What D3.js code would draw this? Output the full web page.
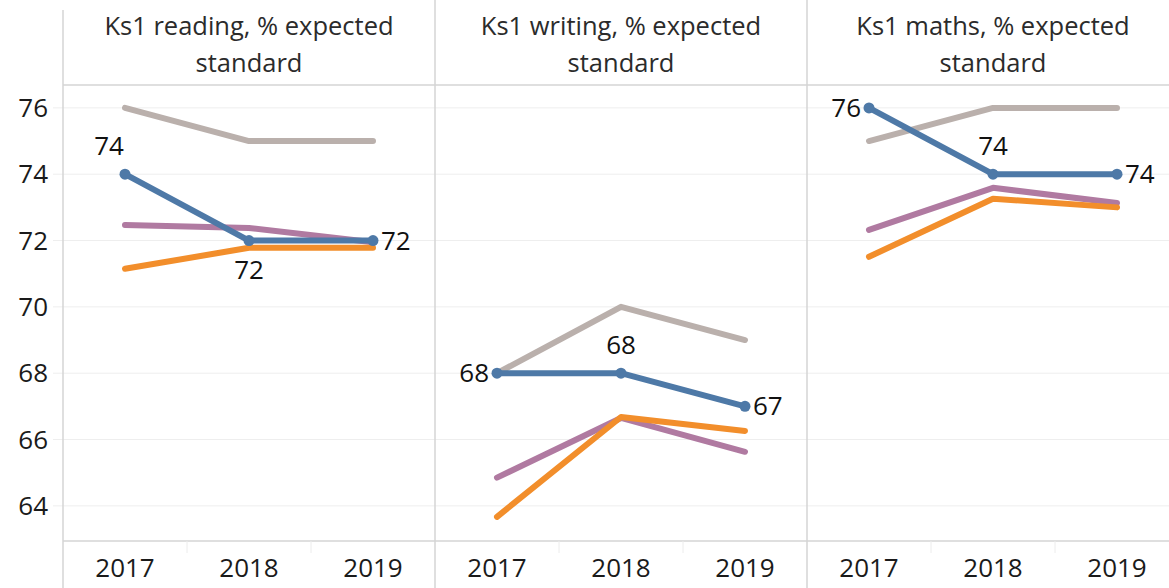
<!DOCTYPE html>
<html lang="en">
<head>
    <meta charset="UTF-8">
    <title>Ks1 expected standard</title>
    <script src="https://cdn.jsdelivr.net/npm/d3@7"></script>
    <style>
        body { margin: 0; background: #fff; }
        text { font-family: "Open Sans", sans-serif; fill: #1a1a1a; }
        .title { font-size: 25.5px; fill: #2b2b2b; }
        .tick-label { font-size: 26px; }
        .value-label { font-size: 26px; fill: #111; }
    </style>
</head>
<body>
<div id="container"></div>
<script>
    // data
    const years = ["2017", "2018", "2019"];
    const subjects = ["Ks1 reading, % expected standard", "Ks1 writing, % expected standard", "Ks1 maths, % expected standard"];
    const yTicks = [64, 66, 68, 70, 72, 74, 76];

    // one array per series, one row per subject
    const grey   = [[76, 75, 75], [68, 70, 69], [75, 76, 76]];
    const blue   = [[74, 72, 72], [68, 68, 67], [76, 74, 74]];
    const purple = [[72.47, 72.38, 71.95], [64.85, 66.65, 65.63], [72.32, 73.59, 73.13]];
    const orange = [[71.15, 71.78, 71.78], [63.67, 66.68, 66.26], [71.51, 73.26, 73.0]];

    // where the blue value labels sit, per subject
    const labelSide = [["above", "below", "right"], ["left", "above", "right"], ["left", "above", "right"]];

    const width = 1169, height = 588;
    const margin = {top: 85, left: 63, bottom: 47};
    const panelW = 372;

    const svg = d3.select("#container")
        .append("svg")
        .attr("width", width)
        .attr("height", height);

    const yScale = d3.scaleLinear().domain([62.94, 76.69]).range([height - margin.bottom, margin.top]);
    const xPanel = d3.scaleBand().domain(d3.range(subjects.length)).range([margin.left, margin.left + panelW * subjects.length]);
    const xYear = d3.scalePoint().domain(years).range([0, panelW]).padding(0.5);

    // gridlines
    svg.append("g").selectAll("line")
        .data(yTicks)
        .join("line")
        .attr("x1", margin.left - 10)
        .attr("x2", width)
        .attr("y1", d => yScale(d))
        .attr("y2", d => yScale(d))
        .attr("stroke", "#eeeeee")
        .attr("stroke-width", 1);

    // y axis labels
    svg.append("g").selectAll("text")
        .data(yTicks)
        .join("text")
        .attr("class", "tick-label")
        .attr("x", margin.left - 15)
        .attr("y", d => yScale(d))
        .attr("dy", "0.35em")
        .attr("text-anchor", "end")
        .text(d => d);

    // frame lines
    const frame = svg.append("g").attr("stroke", "#d4d4d4").attr("stroke-width", 1.5);
    frame.append("line")
        .attr("x1", margin.left).attr("x2", width)
        .attr("y1", margin.top).attr("y2", margin.top);
    frame.append("line")
        .attr("x1", margin.left).attr("x2", width)
        .attr("y1", height - margin.bottom).attr("y2", height - margin.bottom);
    frame.selectAll(".sep")
        .data(d3.range(subjects.length))
        .join("line")
        .attr("x1", d => xPanel(d)).attr("x2", d => xPanel(d))
        .attr("y1", d => d === 0 ? 10 : 0).attr("y2", height);

    const series = [
        {name: "grey", values: grey, color: "#bab0ac"},
        {name: "purple", values: purple, color: "#b07aa1"},
        {name: "orange", values: orange, color: "#f28e2b"},
        {name: "blue", values: blue, color: "#4e79a7"}
    ];

    subjects.forEach((subject, i) => {
        const g = svg.append("g").attr("transform", `translate(${xPanel(i)},0)`);

        // header title on two lines
        const words = subject.split(" ");
        const lines = [words.slice(0, -1).join(" "), words[words.length - 1]];
        g.append("text")
            .attr("class", "title")
            .attr("text-anchor", "middle")
            .selectAll("tspan")
            .data(lines)
            .join("tspan")
            .attr("x", panelW / 2)
            .attr("y", (d, k) => 35 + k * 37)
            .text(d => d);

        // small dividers between the year bands
        g.selectAll(".band-tick")
            .data(years.slice(1))
            .join("line")
            .attr("x1", d => xYear(d) - xYear.step() / 2)
            .attr("x2", d => xYear(d) - xYear.step() / 2)
            .attr("y1", height - margin.bottom)
            .attr("y2", height - margin.bottom + 12)
            .attr("stroke", "#ececec");

        // year labels
        g.selectAll(".year")
            .data(years)
            .join("text")
            .attr("class", "tick-label")
            .attr("x", d => xYear(d))
            .attr("y", 577)
            .attr("text-anchor", "middle")
            .text(d => d);

        const line = d3.line()
            .x((d, k) => xYear(years[k]))
            .y(d => yScale(d));

        series.forEach(s => {
            g.append("path")
                .attr("d", line(s.values[i]))
                .attr("fill", "none")
                .attr("stroke", s.color)
                .attr("stroke-width", 6)
                .attr("stroke-linecap", "round")
                .attr("stroke-linejoin", "round");
        });

        // blue markers and labels
        g.selectAll(".dot")
            .data(blue[i])
            .join("circle")
            .attr("cx", (d, k) => xYear(years[k]))
            .attr("cy", d => yScale(d))
            .attr("r", 5.5)
            .attr("fill", "#4e79a7");

        g.selectAll(".value-label")
            .data(blue[i])
            .join("text")
            .attr("class", "value-label")
            .attr("x", (d, k) => {
                const side = labelSide[i][k];
                if (side === "left") return xYear(years[k]) - 8;
                if (side === "right") return xYear(years[k]) + 8;
                return xYear(years[k]) - (k === 0 ? 16 : 0);
            })
            .attr("y", (d, k) => {
                const side = labelSide[i][k];
                if (side === "above") return yScale(d) - 28;
                if (side === "below") return yScale(d) + 29;
                return yScale(d);
            })
            .attr("dy", "0.35em")
            .attr("text-anchor", (d, k) => {
                const side = labelSide[i][k];
                if (side === "left") return "end";
                if (side === "right") return "start";
                return "middle";
            })
            .text(d => d3.format(".0f")(d));
    });
</script>
</body>
</html>
